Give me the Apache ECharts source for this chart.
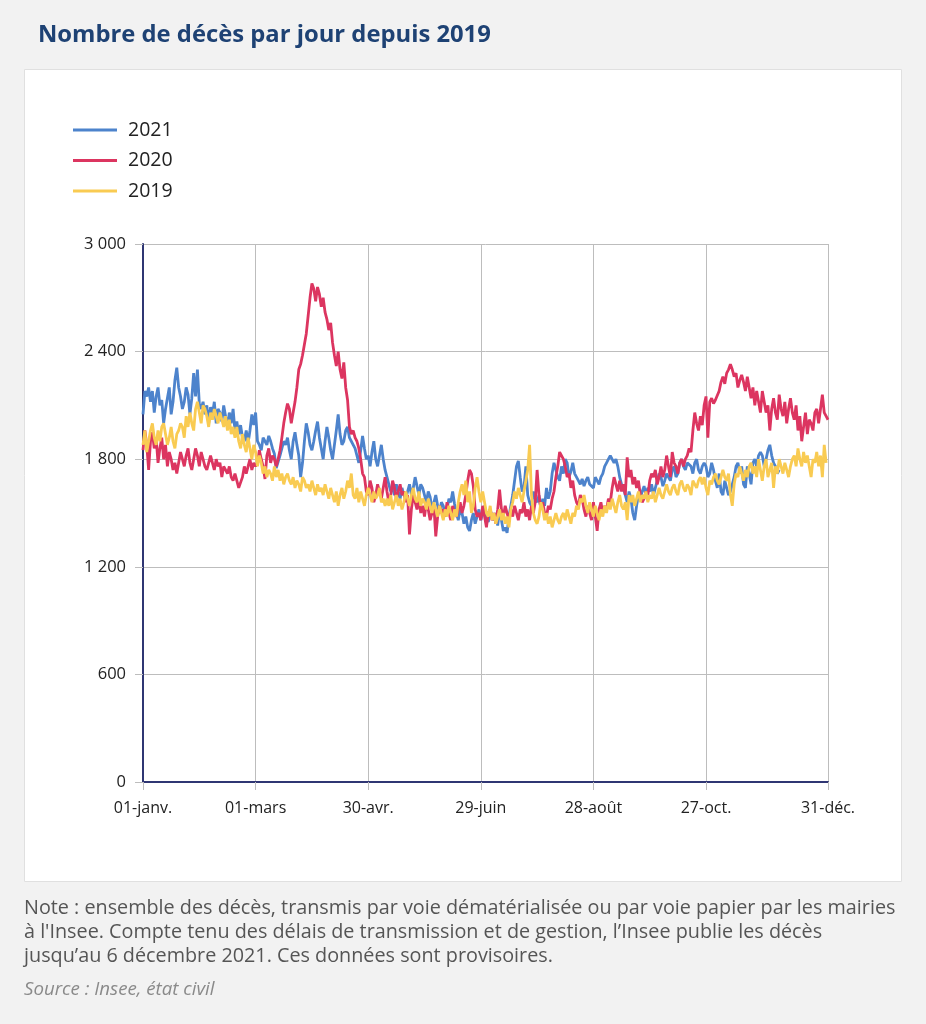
<!DOCTYPE html>
<html><head><meta charset="utf-8">
<script src="https://cdn.jsdelivr.net/npm/echarts@6/dist/echarts.min.js"></script>
<style>html,body{margin:0;padding:0;background:#f2f2f2}#c{width:926px;height:1024px}</style>
</head><body><div id="c"></div>
<script>
// Day index 0..365 (leap-year calendar used for the axis)
const tickDays = [0, 60, 120, 180, 240, 300, 365];
const tickLabels = ['01-janv.', '01-mars', '30-avr.', '29-juin', '28-août', '27-oct.', '31-déc.'];
const yTicks = [0, 600, 1200, 1800, 2400, 3000];

const deaths2021 = [
2050,2180,2150,2200,2120,2180,2060,2150,2200,2100,
2130,2000,2080,2140,2200,2050,2120,2240,2310,2200,
2150,2080,2120,2200,2160,2050,2140,2280,2150,2300,
2110,2080,2120,2050,2100,2000,2090,2050,2120,2000,
2080,2060,2010,2100,2040,1980,2060,2000,2080,1960,
2010,1940,1990,1920,1900,1960,1890,1960,2050,1990,
2060,1900,1880,1850,1920,1900,1880,1930,1900,1860,
1830,1750,1740,1820,1860,1900,1880,1920,1850,1800,
1900,1950,1880,1820,1700,1780,1900,2000,1950,1880,
1850,1900,1960,2010,1920,1860,1800,1900,1980,1920,
1850,1800,1880,1960,2050,1940,1880,1900,1960,1980,
1920,1900,1880,1860,1820,1780,1850,1930,1860,1800,
1820,1760,1840,1900,1800,1760,1820,1880,1800,1740,
1700,1660,1620,1640,1600,1660,1620,1580,1640,1600,
1580,1620,1660,1600,1640,1700,1650,1600,1660,1640,
1600,1560,1620,1590,1520,1560,1600,1540,1500,1560,
1540,1480,1520,1580,1560,1620,1550,1500,1460,1520,
1500,1440,1480,1420,1400,1460,1500,1440,1480,1520,
1460,1500,1540,1480,1450,1520,1480,1460,1500,1430,
1520,1460,1400,1420,1390,1480,1540,1600,1680,1760,
1790,1700,1620,1640,1760,1600,1560,1540,1620,1580,
1560,1600,1520,1580,1540,1640,1580,1620,1720,1780,
1740,1700,1680,1760,1720,1800,1780,1700,1730,1780,
1720,1700,1680,1660,1690,1650,1680,1700,1660,1650,
1640,1700,1680,1660,1700,1720,1760,1780,1800,1820,
1810,1780,1800,1760,1700,1660,1640,1600,1560,1620,
1580,1500,1460,1540,1600,1580,1620,1650,1600,1640,
1620,1660,1600,1640,1680,1720,1700,1650,1680,1720,
1700,1680,1740,1760,1700,1720,1780,1800,1760,1740,
1780,1790,1760,1720,1780,1800,1740,1720,1760,1780,
1760,1700,1720,1780,1740,1680,1640,1720,1620,1600,
1680,1640,1600,1620,1660,1700,1760,1780,1720,1760,
1660,1640,1760,1720,1660,1780,1800,1760,1820,1840,
1820,1760,1800,1850,1880,1820,1780,1760,1720,1740
];

const deaths2020 = [
1850,1960,1880,1740,1900,1950,1860,1920,1780,1860,
1920,1800,1880,1760,1840,1800,1740,1780,1720,1780,
1840,1800,1760,1820,1860,1780,1740,1800,1860,1820,
1760,1840,1800,1760,1740,1780,1820,1780,1740,1800,
1760,1780,1700,1760,1740,1720,1760,1700,1680,1720,
1680,1640,1630,1700,1760,1720,1760,1800,1740,1780,
1760,1780,1850,1800,1760,1690,1820,1860,1780,1820,
1800,1760,1800,1850,1920,2000,2060,2110,2080,2000,
2060,2120,2200,2300,2330,2380,2440,2500,2600,2700,
2780,2750,2680,2760,2720,2650,2700,2620,2580,2520,
2560,2450,2380,2320,2400,2300,2250,2340,2200,2130,
1980,1940,1960,1920,1900,1860,1800,1720,1700,1620,
1600,1680,1640,1560,1600,1660,1620,1580,1640,1700,
1620,1560,1600,1680,1640,1580,1620,1660,1600,1620,
1560,1600,1380,1520,1600,1560,1520,1580,1500,1540,
1480,1560,1520,1460,1500,1540,1370,1480,1540,1500,
1520,1480,1560,1500,1460,1540,1500,1480,1520,1560,
1500,1540,1600,1680,1740,1720,1650,1520,1480,1500,
1460,1540,1480,1420,1500,1520,1460,1500,1440,1520,
1630,1520,1480,1540,1500,1460,1520,1480,1540,1500,
1460,1520,1500,1560,1480,1520,1460,1540,1500,1560,
1740,1600,1520,1560,1500,1480,1540,1520,1580,1620,
1700,1760,1840,1830,1800,1760,1700,1720,1640,1680,
1600,1560,1540,1600,1580,1520,1480,1540,1500,1460,
1560,1480,1400,1520,1560,1500,1540,1520,1580,1560,
1640,1700,1660,1620,1680,1620,1660,1600,1810,1700,
1740,1660,1700,1640,1680,1600,1560,1580,1620,1600,
1680,1720,1700,1740,1660,1700,1760,1700,1740,1820,
1760,1700,1840,1780,1760,1720,1780,1800,1760,1800,
1820,1860,1840,1960,2060,2000,1960,2040,1990,2100,
2150,1920,2120,2140,2110,2130,2140,2180,2230,2260,
2220,2280,2300,2330,2300,2260,2280,2200,2240,2270,
2230,2180,2260,2200,2140,2200,2100,2180,2120,2060,
2180,2120,2060,2100,1960,2080,2140,2060,2020,2160,
2080,2040,2120,2000,2080,2140,2060,2020,2100,1960,
2040,1900,1980,2060,1940,2020,2000,1960,2060,2080,
2000,2080,2160,2060,2040,2020
];

const deaths2019 = [
1880,1960,1840,1900,1960,2000,1920,1880,1960,1900,
1980,2000,1940,1880,1920,1980,1900,1860,1940,1960,
2000,1980,1920,2040,1980,2060,2000,1960,2080,2120,
2060,2000,2100,2080,2040,1980,2060,2020,2080,2040,
2000,2060,2020,1980,2040,1960,2020,1940,1980,1920,
1980,1900,1860,1940,1880,1840,1920,1860,1800,1880,
1840,1760,1820,1780,1720,1760,1700,1740,1720,1680,
1760,1700,1740,1680,1720,1660,1700,1720,1680,1660,
1700,1640,1680,1660,1620,1700,1680,1640,1660,1620,
1680,1640,1600,1660,1620,1640,1600,1660,1620,1580,
1640,1600,1560,1620,1540,1600,1640,1580,1620,1680,
1640,1720,1600,1580,1640,1560,1620,1580,1540,1600,
1640,1600,1560,1620,1580,1600,1640,1560,1580,1540,
1580,1540,1600,1520,1560,1600,1540,1580,1520,1560,
1620,1580,1540,1600,1640,1580,1560,1620,1540,1580,
1560,1520,1580,1540,1500,1560,1520,1480,1540,1500,
1460,1520,1480,1540,1500,1460,1520,1480,1560,1620,
1660,1600,1680,1560,1620,1500,1540,1640,1700,1620,
1560,1620,1560,1500,1480,1540,1460,1500,1440,1480,
1520,1460,1500,1440,1480,1420,1520,1560,1620,1580,
1640,1600,1560,1620,1680,1740,1880,1600,1500,1460,
1440,1480,1560,1520,1460,1500,1440,1480,1420,1460,
1500,1460,1440,1480,1500,1460,1520,1480,1440,1500,
1480,1540,1520,1580,1560,1600,1540,1500,1560,1520,
1480,1540,1500,1460,1520,1480,1540,1500,1560,1520,
1580,1540,1500,1560,1600,1540,1520,1560,1460,1600,
1560,1600,1540,1580,1620,1560,1600,1580,1620,1560,
1600,1580,1620,1560,1600,1640,1600,1580,1620,1660,
1620,1600,1640,1660,1620,1600,1660,1680,1640,1620,
1660,1640,1600,1680,1660,1640,1680,1700,1660,1700,
1640,1600,1680,1660,1700,1720,1680,1660,1700,1740,
1700,1680,1720,1600,1540,1660,1720,1700,1760,1720,
1680,1740,1700,1760,1780,1720,1760,1700,1800,1740,
1680,1760,1800,1700,1740,1780,1640,1760,1720,1800,
1760,1720,1780,1740,1700,1760,1800,1820,1760,1860,
1800,1760,1840,1780,1820,1760,1700,1800,1780,1840,
1760,1820,1700,1880,1780
];

const seriesNames = ['2021', '2020', '2019'];
const seriesColors = ['#4d83cc', '#dc3560', '#f9cb52'];
const seriesData = [deaths2021, deaths2020, deaths2019];

const days = [];
for (let i = 0; i <= 365; i++) days.push(i);
const isTick = (i) => tickDays.indexOf(i) >= 0;

const chart = echarts.init(document.getElementById('c'), null, {renderer: 'canvas'});
chart.setOption({
  animation: false,
  backgroundColor: '#f2f2f2',
  textStyle: {fontFamily: '"Open Sans", sans-serif'},
  graphic: [
    {type: 'rect', z: -10, shape: {x: 24.5, y: 69.5, width: 877, height: 812},
     style: {fill: '#ffffff', stroke: '#e0e0e0', lineWidth: 1}},
    {type: 'text', left: 38, top: 23,
     style: {text: 'Nombre de décès par jour depuis 2019', fill: '#1e4274',
             font: '700 23.8px "Open Sans", sans-serif'}},
    {type: 'text', left: 24, top: 896,
     style: {text: 'Note : ensemble des décès, transmis par voie dématérialisée ou par voie papier par les mairies\nà l\'Insee. Compte tenu des délais de transmission et de gestion, l\u2019Insee publie les décès\njusqu\u2019au 6 décembre 2021. Ces données sont provisoires.',
             fill: '#555555', font: '400 19.8px "Open Sans", sans-serif', lineHeight: 24}},
    {type: 'text', left: 24, top: 980,
     style: {text: 'Source : Insee, état civil', fill: '#8a8a8a',
             font: 'italic 400 18.7px "Open Sans", sans-serif'}}
  ],
  legend: {
    orient: 'vertical', left: 73, top: 120, padding: 0,
    icon: 'rect', itemWidth: 44, itemHeight: 3, itemGap: 10.5,
    data: seriesNames,
    textStyle: {fontSize: 19.5, color: '#222', lineHeight: 20, padding: [0, 0, 0, 6]}
  },
  grid: {left: 143, right: 98, top: 244, bottom: 242, containLabel: false},
  xAxis: {
    type: 'category', data: days, boundaryGap: false,
    axisLine: {lineStyle: {color: '#2f3673', width: 2}, onZero: false},
    axisTick: {show: true, length: 8, interval: (i) => isTick(i), lineStyle: {color: '#bdbdbd'}},
    splitLine: {show: true, interval: (i) => isTick(i), lineStyle: {color: '#bdbdbd', width: 1}},
    axisLabel: {interval: (i) => isTick(i), margin: 18, fontSize: 16, color: '#222',
                formatter: (v, i) => tickLabels[tickDays.indexOf(Number(v))] || ''}
  },
  yAxis: {
    type: 'value', min: 0, max: 3000, interval: 600,
    axisLine: {show: true, lineStyle: {color: '#2f3673', width: 2}},
    axisTick: {show: true, length: 8, lineStyle: {color: '#bdbdbd'}},
    splitLine: {show: true, lineStyle: {color: '#bdbdbd', width: 1}},
    axisLabel: {margin: 17, fontSize: 16.5, color: '#222',
                formatter: (v) => String(v).replace(/\B(?=(\d{3})+(?!\d))/g, ' ')}
  },
  series: seriesNames.map((n, k) => ({
    name: n, type: 'line', data: seriesData[k], showSymbol: false, symbol: 'none',
    color: seriesColors[k], lineStyle: {width: 2.8, color: seriesColors[k]}, z: 2 + k
  }))
});
</script></body></html>
